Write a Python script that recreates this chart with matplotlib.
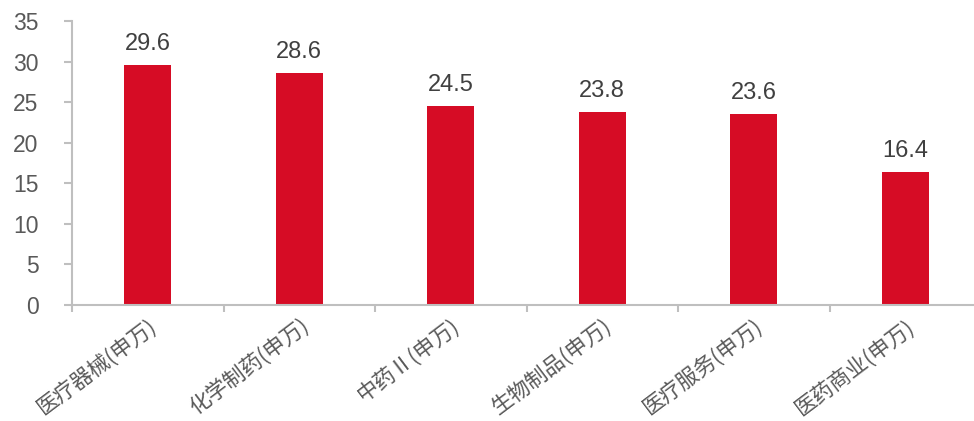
import matplotlib
matplotlib.use("Agg")
import matplotlib.pyplot as plt

categories = ["医疗器械(申万)", "化学制药(申万)", "中药Ⅱ(申万)",
              "生物制品(申万)", "医疗服务(申万)", "医药商业(申万)"]
values = [29.6, 28.6, 24.5, 23.8, 23.6, 16.4]
y_ticks = [0, 5, 10, 15, 20, 25, 30, 35]

plt.rcParams['font.family'] = ['Liberation Sans', 'Noto Sans CJK SC', 'DejaVu Sans']

bar_color = '#D60C25'
axis_color = '#BFBFBF'

fig = plt.figure(figsize=(9.74, 4.21), dpi=100)
ax = fig.add_axes([72 / 974, 116 / 421, 909 / 974, 284 / 421])

x = list(range(len(categories)))
ax.bar(x, values, width=0.31, color=bar_color, zorder=2)

# value labels on top of bars
for xi, v in zip(x, values):
    ax.annotate(f"{v:.1f}", (xi, v), xytext=(0, 7), textcoords='offset points',
                ha='center', va='bottom', fontsize=17, color='#404040')

ax.set_xlim(-0.5, len(categories) - 0.5)
ax.set_ylim(0, 35)

# y axis
ax.set_yticks(y_ticks)
ax.set_yticklabels([str(t) for t in y_ticks], fontsize=16.5, color='#595959')
ax.tick_params(axis='y', length=6, width=1.5, color=axis_color, pad=18)

# x axis: ticks at category boundaries, labels drawn separately
ax.set_xticks([i - 0.5 for i in range(len(categories) + 1)])
ax.set_xticklabels([])
ax.tick_params(axis='x', length=5, width=1.5, color=axis_color)

for xi, lab in zip(x, categories):
    ax.annotate(lab, (xi, 0), xycoords=('data', 'axes fraction'),
                xytext=(0, -7), textcoords='offset points',
                ha='right', va='top', rotation=37, rotation_mode='anchor',
                fontsize=15.5, color='#595959',
                family=['Noto Sans CJK SC', 'DejaVu Sans'])

for side in ['top', 'right']:
    ax.spines[side].set_visible(False)
for side in ['left', 'bottom']:
    ax.spines[side].set_color(axis_color)
    ax.spines[side].set_linewidth(1.5)

fig.savefig("out.png", dpi=100)
